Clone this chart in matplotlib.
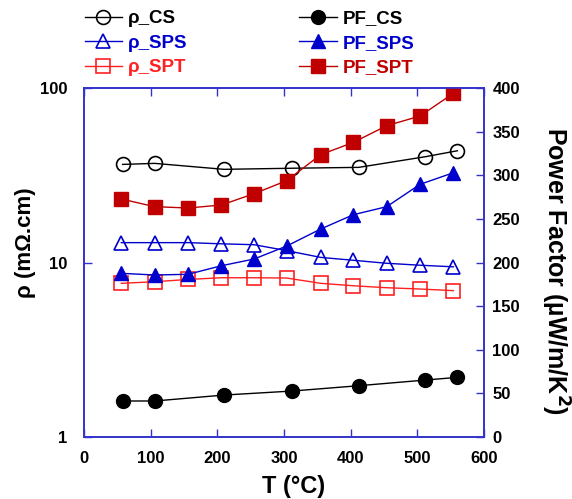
import matplotlib
matplotlib.use("Agg")
import matplotlib.pyplot as plt

plt.rcParams['font.family'] = ['Liberation Sans', 'DejaVu Sans']
plt.rcParams['font.weight'] = 'bold'

# temperatures (C)
T_cs = [58, 106, 210, 312, 412, 512, 560]
T_sp = [56, 106, 156, 206, 255, 304, 355, 404, 454, 504, 554]

# resistivity (mOhm.cm)
rho_cs = [36.5, 37.0, 34.2, 34.7, 35.1, 40.4, 43.7]
rho_sps = [13.0, 13.0, 13.0, 12.8, 12.65, 11.7, 10.7, 10.3, 9.9, 9.65, 9.45]
rho_spt = [7.6, 7.76, 8.0, 8.18, 8.18, 8.15, 7.6, 7.36, 7.17, 7.05, 6.9]

# power factor (uW/m/K^2)
pf_cs = [41.3, 41.3, 48.1, 52.7, 58.8, 65.3, 68.4]
pf_sps = [187.6, 185.7, 186.5, 196.3, 204, 218.9, 238.4, 254.8, 264, 289.6, 302.9]
pf_spt = [272.8, 264.0, 262.5, 265.9, 278.9, 293.8, 323.6, 337.7, 356.8, 367.9, 393.9]

blue = '#0000cc'
red = '#ff2020'
dred = '#c00000'
frame = '#3333cc'

fig = plt.figure(figsize=(5.72, 4.99), dpi=100)
ax1 = fig.add_axes([0.1469, 0.1242, 0.6993, 0.6994])
ax2 = ax1.twinx()

ms = 10
l1, = ax1.plot(T_cs, rho_cs, color='black', lw=1, marker='o', ms=ms, mfc='none', mew=1.2, label='ρ_CS')
l2, = ax1.plot(T_sp, rho_sps, color=blue, lw=1, marker='^', ms=ms, mfc='none', mew=1.2, label='ρ_SPS')
l3, = ax1.plot(T_sp, rho_spt, color=red, lw=1, marker='s', ms=ms, mfc='none', mew=1.2, label='ρ_SPT')

l4, = ax2.plot(T_cs, pf_cs, color='black', lw=1, marker='o', ms=ms, label='PF_CS')
l5, = ax2.plot(T_sp, pf_sps, color=blue, lw=1, marker='^', ms=ms, label='PF_SPS')
l6, = ax2.plot(T_sp, pf_spt, color=dred, lw=1, marker='s', ms=ms, label='PF_SPT')

ax1.set_yscale('log')
ax1.set_ylim(1, 100)
ax1.set_xlim(0, 600)
ax2.set_ylim(0, 400)
ax1.set_yticks([1, 10, 100])
ax1.set_yticklabels(['1', '10', '100'])
ax1.yaxis.set_minor_locator(matplotlib.ticker.NullLocator())
ax1.set_xticks(range(0, 601, 100))
ax2.set_yticks(range(0, 401, 50))

for ax in (ax1, ax2):
    for s in ax.spines.values():
        s.set_color(frame)
        s.set_linewidth(1.2)
    ax.tick_params(direction='in', length=6, width=1, color=frame, labelsize=12)
ax1.tick_params(axis='y', pad=12)
ax2.tick_params(axis='y', pad=6)
ax1.tick_params(axis='x', top=True, pad=10)

ax1.set_xlabel('T (°C)', fontsize=17, fontweight='bold')
ax1.xaxis.set_label_coords(0.525, -0.143)
ax1.xaxis.label.set_va('center')

ax1.set_ylabel('ρ (mΩ.cm)', fontsize=16, fontweight='bold')
ax1.yaxis.set_label_coords(-0.1475, 0.556)
ax1.yaxis.label.set_va('center')

ax2.set_ylabel('Power Factor (µW/m/K$^\\mathbf{2}$)', fontsize=18, fontweight='bold',
               rotation=270)
ax2.yaxis.set_label_coords(1.1775, 0.4756)
ax2.yaxis.label.set_va('center')

leg1 = fig.legend(handles=[l1, l2, l3], loc='upper left', bbox_to_anchor=(0.135, 0.995),
                  frameon=False, fontsize=13.5, handlelength=2.0, labelspacing=0.4,
                  handletextpad=0.3, borderaxespad=0)
leg2 = fig.legend(handles=[l4, l5, l6], loc='upper left', bbox_to_anchor=(0.51, 0.995),
                  frameon=False, fontsize=13.5, handlelength=2.0, labelspacing=0.4,
                  handletextpad=0.3, borderaxespad=0)
for leg, cols in ((leg1, ['black', blue, red]), (leg2, ['black', blue, dred])):
    for t, c in zip(leg.get_texts(), cols):
        t.set_color(c)

fig.savefig('out.png', dpi=100)
